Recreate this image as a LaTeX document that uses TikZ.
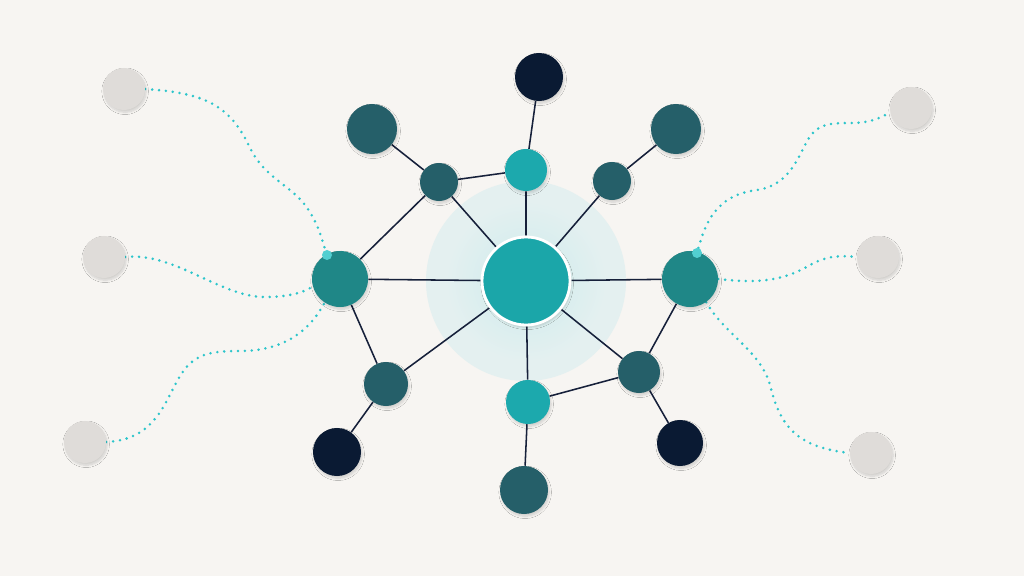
\documentclass[tikz,border=0pt]{standalone}
\usetikzlibrary{backgrounds,shadows.blur}
\definecolor{bgc}{HTML}{F7F5F2}
\definecolor{navyc}{HTML}{0A1A33}
\definecolor{deepc}{HTML}{255F69}
\definecolor{tealc}{HTML}{1F8787}
\definecolor{corec}{HTML}{1BA6A9}
\definecolor{cyanc}{HTML}{1CA9AD}
\definecolor{greyc}{HTML}{DFDCD9}
\definecolor{dotc}{HTML}{2CC5CB}
\definecolor{tipc}{HTML}{52CFD1}
\definecolor{linkc}{HTML}{16203A}
\definecolor{glowc}{HTML}{E4F0F0}
\tikzset{
  bub/.style={circle,inner sep=0pt,minimum size=#1*0.05cm,
    blur shadow={shadow blur steps=8,shadow blur radius=1.6pt,shadow xshift=0.8pt,shadow yshift=-1.6pt,shadow opacity=16}},
  navyb/.style={bub=#1,fill=navyc},
  deepb/.style={bub=#1,fill=deepc},
  tealb/.style={bub=#1,fill=tealc},
  cyanb/.style={bub=#1,fill=cyanc},
  greyb/.style={bub=#1,fill=greyc},
  tipb/.style={circle,inner sep=0pt,minimum size=#1*0.05cm,fill=tipc},
  link/.style={draw=linkc,line width=1.1pt},
  trail/.style={draw=dotc,line width=2pt,line cap=round,dash pattern=on 0pt off 4.9pt},
}
\begin{document}
\begin{tikzpicture}[x=0.025cm,y=-0.025cm]
 \useasboundingbox (0,0) rectangle (1024,576);
 % hub and ring
 \node[bub=44,fill=corec,draw=white,line width=2pt] (core) at (526,281) {};
 \node[cyanb=21] (ntop) at (526,170) {};
 \node[navyb=24] (ntopo) at (539,77) {};
 \node[deepb=19] (nul) at (439,182) {};
 \node[deepb=25] (nulo) at (372,129) {};
 \node[deepb=19] (nur) at (612,181) {};
 \node[deepb=25] (nuro) at (676,129) {};
 \node[tealb=28] (nl) at (340,279) {};
 \node[tealb=28] (nr) at (690,279) {};
 \node[deepb=22] (nll) at (386,384) {};
 \node[navyb=24] (nllo) at (337,452) {};
 \node[cyanb=22] (nbot) at (528,402) {};
 \node[deepb=24] (nboto) at (524,490) {};
 \node[deepb=21] (nlr) at (639,372) {};
 \node[navyb=23] (nlro) at (680,443) {};
 % outer grey points
 \node[greyb=21] (g1) at (124,89) {};
 \node[greyb=21] (g2) at (104,257) {};
 \node[greyb=21] (g3) at (85,442) {};
 \node[greyb=21] (g4) at (911,108) {};
 \node[greyb=21] (g5) at (878,257) {};
 \node[greyb=21] (g6) at (871,453) {};
 \node[tipb=5] (tl) at (327,255) {};
 \node[tipb=5] (tr) at (697,253) {};
 \begin{pgfonlayer}{background}
  \fill[bgc] (0,0) rectangle (1024,576);
  \fill[glowc] (core) circle[radius=100];
  \shade[inner color=corec!22,outer color=glowc] (core) circle[radius=80];
  % dotted trails
  \draw[trail] (g1.east) .. controls (205,93) and (230,105) .. (250,148)
   .. controls (265,178) and (290,185) .. (305,205) .. controls (318,222) and (322,240) .. (tl);
  \draw[trail] (g2.east) .. controls (175,252) and (220,297) .. (265,297)
   .. controls (290,297) and (305,292) .. (nl.195);
  \draw[trail] (g3.east) .. controls (150,440) and (162,410) .. (175,385)
   .. controls (190,355) and (205,351) .. (240,351) .. controls (285,351) and (310,330) .. (nl.237);
  \draw[trail] (tr) .. controls (705,225) and (715,195) .. (757,190)
   .. controls (785,186) and (795,165) .. (805,145) .. controls (815,125) and (825,123) .. (850,123)
   .. controls (870,123) and (878,119) .. (g4.192);
  \draw[trail] (nr.east) .. controls (760,284) and (785,280) .. (810,265)
   .. controls (830,254) and (845,256) .. (g5.west);
  \draw[trail] (nr.-55) .. controls (725,335) and (760,350) .. (770,385)
   .. controls (780,425) and (795,447) .. (g6.west);
  % links
  \draw[link] (core) -- (ntop) -- (ntopo);
  \draw[link] (core) -- (nul) -- (nulo);
  \draw[link] (nul) -- (ntop);
  \draw[link] (core) -- (nur) -- (nuro);
  \draw[link] (core) -- (nl) -- (nul);
  \draw[link] (core) -- (nr) -- (nlr);
  \draw[link] (nl) -- (nll) -- (core);
  \draw[link] (nll) -- (nllo);
  \draw[link] (core) -- (nbot) -- (nboto);
  \draw[link] (core) -- (nlr) -- (nbot);
  \draw[link] (nlr) -- (nlro);
 \end{pgfonlayer}
\end{tikzpicture}
\end{document}
